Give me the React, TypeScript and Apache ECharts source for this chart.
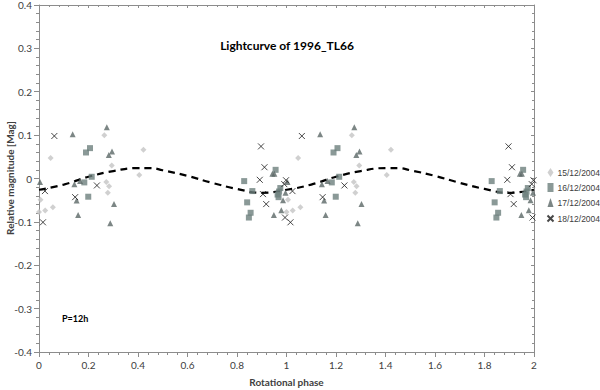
import React, { useEffect, useRef } from "react";
import * as echarts from "echarts";

// Phase (0..1) and relative magnitude for each night
const d15: number[][] = [
  [0.0, -0.077], [0.006, -0.049], [0.025, -0.074], [0.056, -0.066], [0.047, 0.047],
  [0.264, 0.1], [0.294, 0.03], [0.272, -0.008], [0.283, -0.018], [0.278, -0.033],
  [0.405, 0.008], [0.422, 0.066],
];
const d16: number[][] = [
  [0.19, 0.06], [0.206, 0.07], [0.213, 0.004], [0.183, -0.009], [0.199, -0.042],
  [0.829, -0.006], [0.862, -0.029], [0.841, -0.055], [0.855, -0.079], [0.848, -0.09],
  [0.956, 0.02], [0.975, -0.022], [0.97, -0.03], [0.964, -0.037], [0.968, -0.043],
];
const d17: number[][] = [
  [0.004, -0.008], [0.136, 0.102], [0.274, 0.118], [0.282, 0.054], [0.295, 0.062],
  [0.166, -0.006], [0.143, -0.013], [0.152, -0.051], [0.303, -0.059], [0.158, -0.084],
  [0.288, -0.103], [0.943, 0.011], [0.951, 0.011], [0.996, -0.033], [0.986, -0.05],
  [0.979, -0.073], [0.949, -0.084],
];
const d18: number[][] = [
  [0.016, -0.101], [0.024, -0.029], [0.062, 0.098], [0.146, -0.043], [0.234, -0.016],
  [0.897, 0.074], [0.911, 0.026], [0.892, -0.003], [0.905, -0.036], [0.918, -0.059],
  [0.998, -0.004], [0.991, -0.013], [0.994, -0.09],
];
const fitPhase = [0, 0.1, 0.2, 0.3, 0.4, 0.45, 0.5, 0.6, 0.7, 0.8, 0.9, 1.0];
const fitMag = [-0.026, -0.014, 0.004, 0.017, 0.024, 0.024, 0.019, 0.006, -0.01, -0.024, -0.033, -0.026];

const seriesNames = ["15/12/2004", "16/12/2004", "17/12/2004", "18/12/2004"];
const xTicks = [0, 0.2, 0.4, 0.6, 0.8, 1, 1.2, 1.4, 1.6, 1.8, 2];
const yTicks = [-0.4, -0.3, -0.2, -0.1, 0, 0.1, 0.2, 0.3, 0.4];

const twoCycles = (pts: number[][]) =>
  pts.flatMap(([x, y]) => [[x, y], [x + 1, y]]).filter(([x]) => x <= 2);

const fitLine = (() => {
  const out: number[][] = [];
  fitPhase.forEach((p, i) => out.push([p, fitMag[i]]));
  fitPhase.forEach((p, i) => { if (p > 0) out.push([p + 1, fitMag[i]]); });
  return out;
})();

const FONT = "Lato, 'Open Sans', sans-serif";
const LEGEND_FONT = "'Liberation Sans', Arial, sans-serif";
const CROSS = "path://M0,0L10,10M10,0L0,10";

export default function App() {
  const ref = useRef<HTMLDivElement>(null);
  useEffect(() => {
    if (!ref.current) return;
    const chart = echarts.init(ref.current, undefined, { renderer: "svg" });
    const axisLine = { show: true, onZero: false, lineStyle: { color: "#8c8c8c", width: 1 } };
    const axisTick = { show: true, length: 5, lineStyle: { color: "#8c8c8c" } };
    const minorTick = { show: true, splitNumber: 5, length: 3, lineStyle: { color: "#8c8c8c" } };
    const label = { color: "#404040", fontSize: 10, fontFamily: FONT };
    chart.setOption({
      animation: false,
      backgroundColor: "#ffffff",
      grid: { left: 39, right: 66, top: 5, bottom: 38, containLabel: false, outerBoundsMode: "none" },
      xAxis: [
        {
          type: "value", min: xTicks[0], max: xTicks[xTicks.length - 1], interval: 0.2,
          axisLine, axisTick, minorTick, splitLine: { show: false },
          axisLabel: { ...label, margin: 8 },
          name: "Rotational phase", nameLocation: "middle", nameGap: 25,
          nameTextStyle: { fontSize: 10, fontWeight: "bold", color: "#404040", fontFamily: FONT },
        },
        {
          type: "value", position: "top", min: 0, max: 2, interval: 0.2,
          axisLine, axisTick: { ...axisTick, inside: true, length: 3 },
          minorTick: { ...minorTick, length: 2 }, axisLabel: { show: false }, splitLine: { show: false },
        },
      ],
      yAxis: [
        {
          type: "value", min: yTicks[0], max: yTicks[yTicks.length - 1], interval: 0.1,
          axisLine, axisTick, minorTick, splitLine: { show: false },
          axisLabel: { ...label, margin: 7 },
        },
        {
          type: "value", position: "right", min: -0.4, max: 0.4, interval: 0.1,
          axisLine, axisTick: { ...axisTick, inside: true, length: 3 },
          minorTick: { ...minorTick, length: 2 }, axisLabel: { show: false }, splitLine: { show: false },
        },
      ],
      legend: {
        orient: "vertical", left: 545, top: 168, padding: 0, itemGap: 6, itemWidth: 6, itemHeight: 9,
        data: seriesNames,
        textStyle: { fontSize: 8.5, color: "#404040", fontFamily: LEGEND_FONT, padding: [0, 0, 0, -1] },
      },
      graphic: [
        {
          type: "text", x: 287, y: 45,
          style: { text: "Lightcurve of 1996_TL66", textAlign: "center", textVerticalAlign: "middle",
            font: `bold 12px ${FONT}`, fill: "#000" },
        },
        {
          type: "text", x: 10, y: 178, rotation: Math.PI / 2,
          style: { text: "Relative magnitude [Mag]", textAlign: "center", textVerticalAlign: "middle",
            font: `bold 10px ${FONT}`, fill: "#404040" },
        },
        {
          type: "text", x: 62, y: 318,
          style: { text: "P=12h", textAlign: "left", textVerticalAlign: "middle",
            font: `bold 9px ${FONT}`, fill: "#000" },
        },
      ],
      series: [
        {
          name: seriesNames[0], type: "scatter", data: twoCycles(d15),
          symbol: "diamond", symbolSize: 6, itemStyle: { color: "#c4c4c4" },
        },
        {
          name: seriesNames[1], type: "scatter", data: twoCycles(d16),
          symbol: "rect", symbolSize: 6, itemStyle: { color: "#6d807d" },
        },
        {
          name: seriesNames[2], type: "scatter", data: twoCycles(d17),
          symbol: "triangle", symbolSize: 6, itemStyle: { color: "#5b6866" },
        },
        {
          name: seriesNames[3], type: "scatter", data: twoCycles(d18),
          symbol: CROSS, symbolSize: 6,
          itemStyle: { color: "none", borderColor: "#1a1a1a", borderWidth: 1 },
        },
        {
          name: "fit", type: "line", data: fitLine, smooth: true, showSymbol: false, symbol: "none",
          lineStyle: { color: "#000", width: 2.2, type: [7, 5] }, z: 1,
        },
      ],
    });
    return () => chart.dispose();
  }, []);
  return <div ref={ref} style={{ width: 600, height: 390, position: "absolute", left: 0, top: 0 }} />;
}
